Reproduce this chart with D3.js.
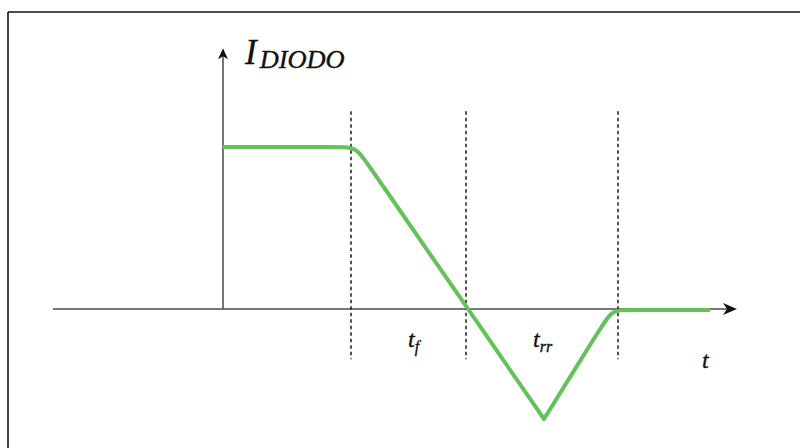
<!DOCTYPE html>
<html>
<head>
<meta charset="utf-8">
<script src="https://cdn.jsdelivr.net/npm/d3@7"></script>
<style>
  html, body { margin: 0; padding: 0; background: #fff; }
  svg { display: block; }
</style>
</head>
<body>
<svg id="chart" width="800" height="448"></svg>
<script>
// ---- data (time in arbitrary units, current normalised to forward current = 1)
const currentTime  = [0, 1.20, 1.33, 1.47, 2.45, 3.21, 3.21, 3.21, 3.77, 3.89, 4.03, 4.87];
const currentValue = [1, 1, 1, 0.875, 0, -0.679, -0.679, -0.679, -0.123, -0.006, -0.006, -0.006];
const markerTimes  = [1.28, 2.43, 3.95];
const markerRange  = [-0.31, 1.22];
const axisTimeRange = [-1.7, 5.14];
const axisCurrentTop = 1.61;
const intervalLabels = [
  { t: 1.85, i: -0.235, main: "t", sub: "f" },
  { t: 3.10, i: -0.235, main: "t", sub: "rr" }
];
const yAxisLabel = { t: 0.22, i: 1.51, main: "I", sub: "DIODO" };
const xAxisLabel = { t: 4.79, i: -0.365, main: "t" };

// ---- scales
const x = d3.scaleLinear().domain([-1.7, 5.14]).range([53, 737]);
const y = d3.scaleLinear().domain([0, 1]).range([309, 147]);

const svg = d3.select("#chart");

// frame
svg.append("line").attr("x1", 8).attr("x2", 800).attr("y1", 12).attr("y2", 12)
  .attr("stroke", "#111").attr("stroke-width", 1.6);
svg.append("line").attr("x1", 8).attr("x2", 8).attr("y1", 12).attr("y2", 448)
  .attr("stroke", "#111").attr("stroke-width", 1.6);

const axisColor = "#4a4a4a";

// x axis
svg.append("line")
  .attr("x1", x(axisTimeRange[0])).attr("x2", x(axisTimeRange[1]) - 6)
  .attr("y1", y(0)).attr("y2", y(0))
  .attr("stroke", axisColor).attr("stroke-width", 1.5);
{
  const tx = x(axisTimeRange[1]), ty = y(0);
  svg.append("path")
    .attr("d", `M${tx},${ty} L${tx - 14},${ty - 6} L${tx - 10},${ty} L${tx - 14},${ty + 6} Z`)
    .attr("fill", "#111");
}

// y axis
svg.append("line")
  .attr("x1", x(0)).attr("x2", x(0))
  .attr("y1", y(0)).attr("y2", y(axisCurrentTop) + 6)
  .attr("stroke", axisColor).attr("stroke-width", 1.5);
{
  const tx = x(0), ty = y(axisCurrentTop);
  svg.append("path")
    .attr("d", `M${tx},${ty} L${tx - 5},${ty + 11} L${tx},${ty + 8} L${tx + 5},${ty + 11} Z`)
    .attr("fill", "#111");
}

// dashed markers
svg.selectAll("line.marker").data(markerTimes).enter().append("line")
  .attr("class", "marker")
  .attr("x1", d => x(d)).attr("x2", d => x(d))
  .attr("y1", y(markerRange[1])).attr("y2", y(markerRange[0]))
  .attr("stroke", "#2a2a2a").attr("stroke-width", 1.6)
  .attr("stroke-dasharray", "3.5,3");

// current waveform
const pts = currentTime.map((t, k) => [t, currentValue[k]]);
const line = d3.line().x(d => x(d[0])).y(d => y(d[1])).curve(d3.curveBasis);
svg.append("path")
  .attr("d", line(pts))
  .attr("fill", "none")
  .attr("stroke", "#63c258")
  .attr("stroke-width", 4)
  .attr("stroke-linejoin", "round");

// labels
const font = "'Liberation Serif', 'Times New Roman', serif";
const textColor = "#111";

function subLabel(lbl, mainSize, subSize, subDx, subDy, subLen) {
  const t = svg.append("text")
    .attr("x", x(lbl.t)).attr("y", y(lbl.i))
    .attr("font-family", font).attr("font-style", "italic")
    .attr("font-size", mainSize).attr("fill", textColor)
    .attr("stroke", textColor).attr("stroke-width", 0.35);
  t.append("tspan").text(lbl.main);
  if (lbl.sub) {
    const s = t.append("tspan").attr("dx", subDx).attr("dy", subDy)
      .attr("font-size", subSize).text(lbl.sub);
    if (subLen) s.attr("textLength", subLen).attr("lengthAdjust", "spacingAndGlyphs");
  }
}

subLabel(yAxisLabel, 35, 25, 3, 4, 85);
intervalLabels.forEach(l => subLabel(l, 24, 16, 0, 5, null));
subLabel(xAxisLabel, 24, 16, 0, 0, null);
</script>
</body>
</html>
